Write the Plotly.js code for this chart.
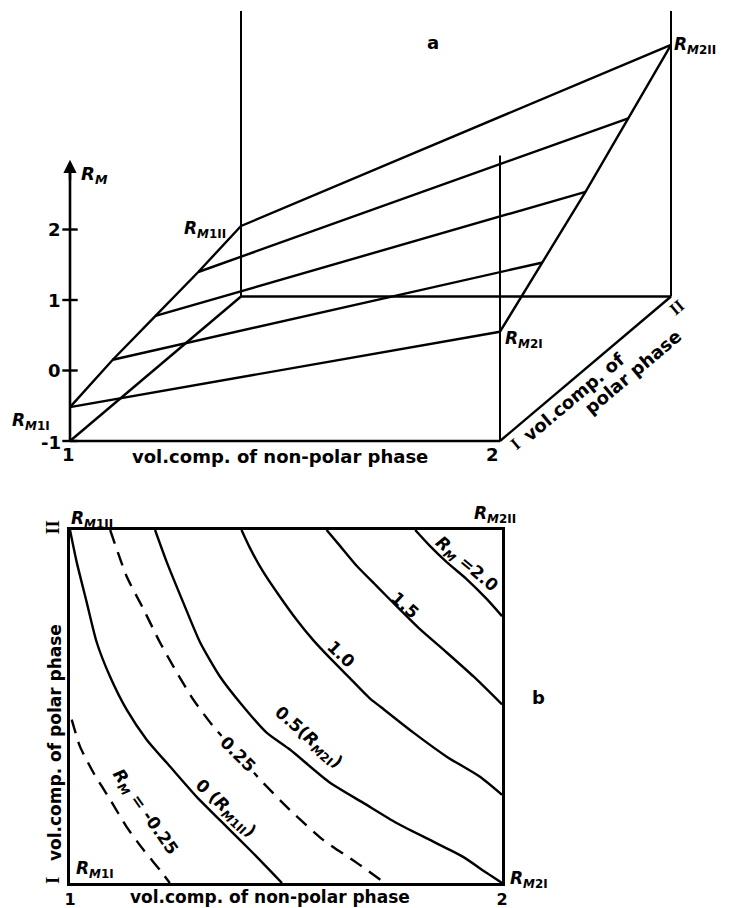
<!DOCTYPE html>
<html><head><meta charset="utf-8">
<script src="https://cdn.plot.ly/plotly-3.0.1.min.js"></script>
<style>html,body{margin:0;padding:0;background:#fff}</style>
</head><body><div id="chart" style="width:731px;height:908px"></div>
<script>
// ---------------- Panel a data (R_M plane over the two composition axes) -------------
const polarLevels    = [0, 0.25, 0.5, 0.75, 1];            // polar phase I ... II
const rmAtNonpolar1  = [-0.52, -0.36, -0.25, -0.14, 0.0];  // R_M along nonpolar = 1
const rmAtNonpolar2  = [0.55, 1.02, 1.51, 2.04, 2.57];     // R_M along nonpolar = 2
const rmTicks        = [-1, 0, 1, 2];
const rmTickLabels   = ['-1', '0', '1', '2'];
const nonpolarTicks  = [1, 2];
const nonpolarLabels = ['1', '2'];
const rmFloor = -1;
const rmTop = 3.05;
const rmArrowTop = 2.99;

// ---------------- Panel b data (iso-R_M lines) -------------
const cM025_x = [1.004, 1.023, 1.054, 1.093, 1.131, 1.170, 1.208, 1.231];
const cM025_p = [0.463, 0.387, 0.313, 0.236, 0.159, 0.094, 0.037, 0.0];
const c000_x  = [1.0, 1.0155, 1.0387, 1.0618, 1.0926, 1.1312, 1.1775, 1.2315, 1.2933, 1.3627, 1.4236, 1.4907];
const c000_p  = [1.0, 0.909, 0.795, 0.682, 0.585, 0.491, 0.406, 0.330, 0.244, 0.159, 0.085, 0.0];
const c025_x  = [1.093, 1.131, 1.170, 1.208, 1.247, 1.285, 1.332, 1.386, 1.440, 1.509, 1.586, 1.664, 1.729];
const c025_p  = [1.0, 0.869, 0.776, 0.682, 0.597, 0.520, 0.443, 0.369, 0.293, 0.207, 0.122, 0.057, 0.0];
const c050_x  = [1.197, 1.224, 1.262, 1.301, 1.347, 1.401, 1.455, 1.509, 1.602, 1.679, 1.756, 1.833, 1.910, 1.965, 2.0];
const c050_p  = [1.0, 0.909, 0.795, 0.682, 0.585, 0.500, 0.426, 0.378, 0.284, 0.227, 0.170, 0.122, 0.074, 0.028, 0.0];
const c100_x  = [1.397, 1.417, 1.447, 1.486, 1.525, 1.563, 1.602, 1.641, 1.694, 1.718, 1.795, 1.872, 1.949, 2.0];
const c100_p  = [1.0, 0.948, 0.882, 0.811, 0.745, 0.688, 0.637, 0.589, 0.523, 0.500, 0.426, 0.358, 0.301, 0.250];
const c150_x  = [1.594, 1.625, 1.664, 1.710, 1.756, 1.810, 1.872, 1.934, 2.0];
const c150_p  = [1.0, 0.955, 0.898, 0.841, 0.784, 0.719, 0.653, 0.585, 0.506];
const c200_x  = [1.799, 1.833, 1.872, 1.918, 1.965, 2.0];
const c200_p  = [1.0, 0.955, 0.909, 0.861, 0.804, 0.756];
const polarTickVals = [0, 1];
const polarTickText = ['I', 'II'];

// ---------------- geometry -------------
const W = 731, H = 908;
const A_X1 = 70, A_PXX = 430;          // px of nonpolar=1, px per unit
const A_YM1 = 441, A_PXY = 70.5;       // px of R_M=-1, px per R_M unit
const A_DX = 171, A_DY = 144.5;        // oblique shift of polar axis (px)
const A_BOTTOM = 454;                  // bottom px of panel a subplot
const OBX = A_DX / A_PXX, OBY = A_DY / A_PXY;
function proj(X, p, rm) { return [X + OBX * p, rm + OBY * p]; }
function seg(pts) {
  const xs = [], ys = [];
  pts.forEach(q => { const r = proj(q[0], q[1], q[2]); xs.push(r[0]); ys.push(r[1]); });
  return {xs, ys};
}
const LC = '#000';
const traces = [];
function addLine(pts, w) {
  const s = seg(pts);
  traces.push({type: 'scatter', mode: 'lines', x: s.xs, y: s.ys, xaxis: 'x', yaxis: 'y',
    line: {color: LC, width: w || 2.4}, hoverinfo: 'skip', showlegend: false});
}
polarLevels.forEach((p, k) => addLine([[1, p, rmAtNonpolar1[k]], [2, p, rmAtNonpolar2[k]]]));
addLine(polarLevels.map((p, k) => [1, p, rmAtNonpolar1[k]]));
addLine(polarLevels.map((p, k) => [2, p, rmAtNonpolar2[k]]));
addLine([[1, 0, rmFloor], [2, 0, rmFloor]], 2.6);
addLine([[1, 0, rmFloor], [1, 1, rmFloor]], 2.4);
addLine([[2, 0, rmFloor], [2, 1, rmFloor]], 2.4);
addLine([[1, 1, rmFloor], [2, 1, rmFloor]], 2.4);
addLine([[1, 1, rmFloor], [1, 1, rmTop]], 2);
addLine([[2, 1, rmFloor], [2, 1, rmTop]], 2);
addLine([[2, 0, rmFloor], [2, 0, rmTop]], 2);
addLine([[1, 0, rmFloor], [1, 0, rmArrowTop - 0.1]], 2.6);
(function () {
  const s = seg(rmTicks.map(t => [1, 0, t]));
  traces.push({type: 'scatter', mode: 'markers', x: s.xs, y: s.ys, xaxis: 'x', yaxis: 'y',
    marker: {symbol: 'line-ew', size: 11, line: {color: LC, width: 2.4}}, hoverinfo: 'skip', showlegend: false});
})();

function addContour(xs, ps, dashed) {
  traces.push({type: 'scatter', mode: 'lines', x: xs, y: ps, xaxis: 'x2', yaxis: 'y2',
    line: {color: LC, width: 2.4, shape: 'spline', smoothing: 0.6, dash: dashed ? '14px,9px' : 'solid'},
    hoverinfo: 'skip', showlegend: false});
}
addContour(cM025_x, cM025_p, true);
addContour(c000_x, c000_p, false);
addContour(c025_x, c025_p, true);
addContour(c050_x, c050_p, false);
addContour(c100_x, c100_p, false);
addContour(c150_x, c150_p, false);
addContour(c200_x, c200_p, false);

// ---------------- annotations -------------
const FONT = 'DejaVu Sans, Liberation Sans, sans-serif';
const SERIF = 'Liberation Serif, DejaVu Serif, serif';
const FS = 18;
const ann = [];
function P(px, py, text, o) {
  ann.push(Object.assign({x: px / W, y: 1 - py / H, xref: 'paper', yref: 'paper', text: '<b>' + text + '</b>',
    showarrow: false, xanchor: 'center', yanchor: 'middle',
    font: {family: FONT, size: FS, color: LC}}, o || {}));
}
const RM = s => '<i>R</i><sub><i>M</i>' + s + '</sub>';
(function () {
  const r = proj(1, 0, rmArrowTop);
  ann.push({x: r[0], y: r[1], xref: 'x', yref: 'y', ax: 0, ay: 22, text: '', showarrow: true,
    arrowhead: 2, arrowsize: 1.1, arrowwidth: 2.4, arrowcolor: LC});
})();
rmTicks.forEach((t, i) => {
  const r = proj(1, 0, t);
  ann.push({x: r[0], y: r[1], xref: 'x', yref: 'y', text: '<b>' + rmTickLabels[i] + '</b>', showarrow: false,
    xanchor: 'right', yanchor: 'middle', xshift: -7, yshift: i === 0 ? -1 : 0, font: {family: FONT, size: FS, color: LC}});
});
nonpolarTicks.forEach((t, i) => {
  const r = proj(t, 0, rmFloor);
  ann.push({x: r[0], y: r[1], xref: 'x', yref: 'y', text: '<b>' + nonpolarLabels[i] + '</b>', showarrow: false,
    xanchor: 'center', yanchor: 'top', yshift: -1, xshift: i === 0 ? -2 : -8,
    font: {family: FONT, size: FS, color: LC}});
});
P(433, 43, 'a');
P(79, 175, '<i>R</i><sub><i>M</i></sub>', {xanchor: 'left'});
P(280, 456, 'vol.comp. of non-polar phase');
P(228, 229, RM('1II'), {xanchor: 'right', font: {family: FONT, size: 17, color: LC}});
P(10, 421, RM('1I'), {xanchor: 'left', font: {family: FONT, size: 17, color: LC}});
P(503, 339, RM('2I'), {xanchor: 'left', font: {family: FONT, size: 17, color: LC}});
P(672, 46, RM('2II'), {xanchor: 'left', font: {family: FONT, size: 17, color: LC}});
P(515, 444, 'I', {textangle: -40, font: {family: SERIF, size: 17, color: LC}});
P(677, 307, 'II', {textangle: -40, font: {family: SERIF, size: 17, color: LC}});
P(573, 397, 'vol.comp. of', {textangle: -40});
P(632, 372, 'polar phase', {textangle: -40});

// panel b labels
P(69, 519, RM('1II'), {xanchor: 'left', font: {family: FONT, size: 17, color: LC}});
P(472, 514, RM('2II'), {xanchor: 'left', font: {family: FONT, size: 17, color: LC}});
P(74, 869, RM('1I'), {xanchor: 'left', font: {family: FONT, size: 17, color: LC}});
P(508, 879, RM('2I'), {xanchor: 'left', font: {family: FONT, size: 17, color: LC}});
P(538, 697, 'b');
P(270, 897, 'vol.comp. of non-polar phase', {font: {family: FONT, size: 17, color: LC}});
P(55, 743, 'vol.comp. of polar phase', {textangle: -90, font: {family: FONT, size: 17, color: LC}});
const CF = {family: FONT, size: 17, color: LC};
P(466, 564, '<i>R</i><sub><i>M</i></sub> =2.0', {textangle: 40, font: CF});
P(405, 605, '1.5', {textangle: 42, font: CF});
P(341, 654, '1.0', {textangle: 44, font: CF});
P(308, 737, '0.5(' + RM('2I') + ')', {textangle: 41, font: CF});
P(238, 754, '0.25', {textangle: 45, font: CF, bgcolor: '#fff', borderpad: 3});
P(225, 808, '0 (' + RM('1II') + ')', {textangle: 43, font: CF});
P(145, 812, '<i>R</i><sub><i>M</i></sub> = -0.25', {textangle: 55, font: CF});

// ---------------- layout -------------
const xr = [1 - A_X1 / A_PXX, 1 + (W - A_X1) / A_PXX];
const yr = [-1 - (A_BOTTOM - A_YM1) / A_PXY, -1 + A_YM1 / A_PXY];
const hidden = {visible: false, fixedrange: true};
const layout = {
  width: W, height: H, autosize: false,
  margin: {l: 0, r: 0, t: 0, b: 0, pad: 0},
  paper_bgcolor: '#fff', plot_bgcolor: 'rgba(0,0,0,0)',
  showlegend: false,
  xaxis: Object.assign({domain: [0, 1], range: xr, anchor: 'y'}, hidden),
  yaxis: Object.assign({domain: [1 - A_BOTTOM / H, 1], range: yr, anchor: 'x'}, hidden),
  xaxis2: {domain: [70 / W, 502 / W], range: [1, 2], anchor: 'y2', showline: true, mirror: true,
    linewidth: 2.8, linecolor: LC, showgrid: false, zeroline: false, ticks: '',
    tickvals: nonpolarTicks, ticktext: nonpolarLabels.map(s => '<b>' + s + '</b>'), ticklabelstandoff: 0,
    tickfont: {family: FONT, size: 16, color: LC}, fixedrange: true},
  yaxis2: {domain: [1 - 883 / H, 1 - 530 / H], range: [0, 1], anchor: 'x2', showline: true, mirror: true,
    linewidth: 2.8, linecolor: LC, showgrid: false, zeroline: false, ticks: '',
    tickvals: polarTickVals, ticktext: polarTickText.map(s => '<b>' + s + '</b>'), tickangle: 90, ticklabelstandoff: 0,
    tickfont: {family: SERIF, size: FS, color: LC}, fixedrange: true},
  annotations: ann
};
Plotly.newPlot('chart', traces, layout, {displayModeBar: false, staticPlot: true});
</script></body></html>
